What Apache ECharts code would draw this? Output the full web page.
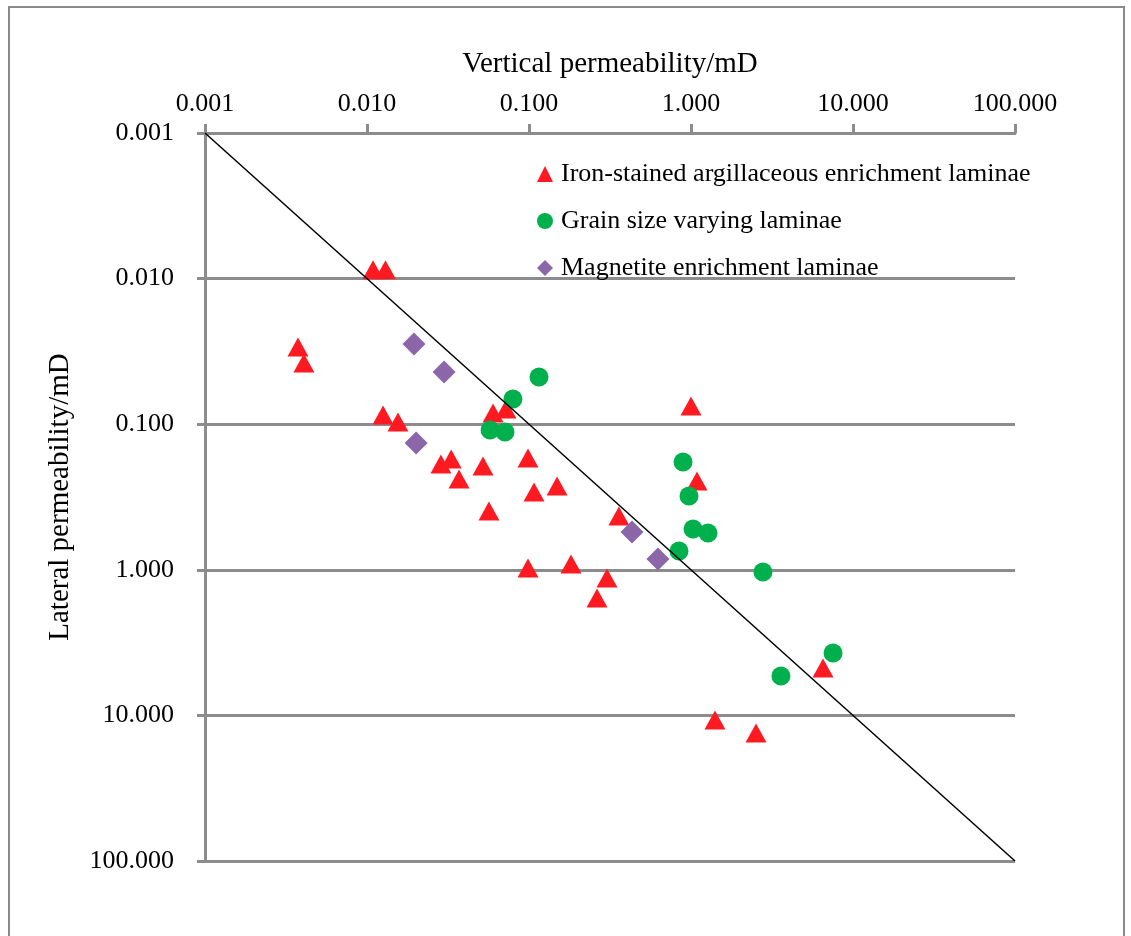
<!DOCTYPE html>
<html>
<head>
<meta charset="utf-8">
<script src="https://cdn.jsdelivr.net/npm/echarts@6/dist/echarts.min.js"></script>
<style>
html,body{margin:0;padding:0;background:#fff;}
#chart{width:1131px;height:936px;}
</style>
</head>
<body>
<div id="chart"></div>
<script>
// Vertical permeability (x) / lateral permeability (y), mD
const ironX = [0.0109,0.0130,0.00375,0.00408,0.01256,0.01553,0.0600,0.0721,0.0286,0.0331,0.0370,0.0520,0.0986,0.1074,0.149,0.0566,1.00,1.089,0.359,0.0986,0.1817,0.303,0.263,6.53,1.406,2.52];
const ironY = [0.0087,0.0087,0.0295,0.0380,0.0865,0.0966,0.0837,0.0786,0.1875,0.1734,0.2379,0.1937,0.1706,0.2923,0.2656,0.394,0.075,0.2455,0.4268,0.972,0.912,1.138,1.563,4.72,10.76,13.2];
const grainX = [0.1153,0.0796,0.0575,0.0711,0.893,0.972,1.029,1.273,0.843,2.78,7.53,3.59];
const grainY = [0.0474,0.0671,0.1096,0.1132,0.1819,0.311,0.525,0.559,0.743,1.036,3.73,5.36];
const magX = [0.0195,0.0299,0.0201,0.4325,0.625];
const magY = [0.0281,0.0438,0.1346,0.550,0.843];
const refLineX = [0.001,100];
const refLineY = [0.001,100];
const tickLabels = ['0.001','0.010','0.100','1.000','10.000','100.000'];
const seriesNames = ['Iron-stained argillaceous enrichment laminae','Grain size varying laminae','Magnetite enrichment laminae'];
const xTitle = 'Vertical permeability/mD';
const yTitle = 'Lateral permeability/mD';

const zip = (a,b) => a.map((v,i)=>[v,b[i]]);
const fmt = v => { const i = Math.round(Math.log10(v)) + 3; return tickLabels[i] !== undefined ? tickLabels[i] : ''; };
const FONT = 'Liberation Serif';
const GRAY = '#8c8c8c';

const chart = echarts.init(document.getElementById('chart'));
chart.setOption({
  animation:false,
  backgroundColor:'#fff',
  textStyle:{fontFamily:FONT},
  graphic:[{type:'rect',shape:{x:9,y:7,width:1115,height:960},style:{fill:'none',stroke:'#8a8a8a',lineWidth:2},silent:true,z:-1}],
  grid:{left:205,top:133,right:116,bottom:75,containLabel:false},
  legend:{
    orient:'vertical',left:537,top:159,padding:0,itemGap:17,itemWidth:16,itemHeight:16,
    data:[{name:seriesNames[0],icon:'triangle'},{name:seriesNames[1],icon:'circle'},{name:seriesNames[2],icon:'diamond'}],
    textStyle:{fontFamily:FONT,fontSize:26,lineHeight:30,color:'#000',padding:[0,0,0,3]}
  },
  xAxis:{
    type:'log',logBase:10,min:0.001,max:100,position:'top',
    name:xTitle,nameLocation:'middle',nameGap:54,
    nameTextStyle:{fontFamily:FONT,fontSize:29,color:'#000'},
    axisLine:{show:true,lineStyle:{color:GRAY,width:3}},
    axisTick:{show:true,inside:false,length:9,lineStyle:{color:GRAY,width:3}},
    axisLabel:{formatter:fmt,fontFamily:FONT,fontSize:26,color:'#000',margin:16},
    splitLine:{show:false},minorTick:{show:false}
  },
  yAxis:{
    type:'log',logBase:10,min:0.001,max:100,inverse:true,
    name:yTitle,nameLocation:'middle',nameGap:130,nameRotate:90,
    nameTextStyle:{fontFamily:FONT,fontSize:29,color:'#000'},
    axisLine:{show:true,lineStyle:{color:GRAY,width:3}},
    axisTick:{show:true,inside:false,length:8,lineStyle:{color:GRAY,width:3}},
    axisLabel:{formatter:fmt,fontFamily:FONT,fontSize:26,color:'#000',margin:31},
    splitLine:{show:true,lineStyle:{color:GRAY,width:3}},minorTick:{show:false}
  },
  series:[
    {name:seriesNames[0],type:'scatter',symbol:'triangle',symbolSize:[21,19],data:zip(ironX,ironY),itemStyle:{color:'#FF1A22',opacity:1},z:3},
    {name:seriesNames[1],type:'scatter',symbol:'circle',symbolSize:19,data:zip(grainX,grainY),itemStyle:{color:'#00B04C',opacity:1},z:4},
    {name:seriesNames[2],type:'scatter',symbol:'diamond',symbolSize:23,data:zip(magX,magY),itemStyle:{color:'#8B67AA',opacity:1},z:5},
    {name:'ref',type:'line',data:zip(refLineX,refLineY),symbol:'none',lineStyle:{color:'#000',width:1.5},silent:true,z:6}
  ]
});
</script>
</body>
</html>
